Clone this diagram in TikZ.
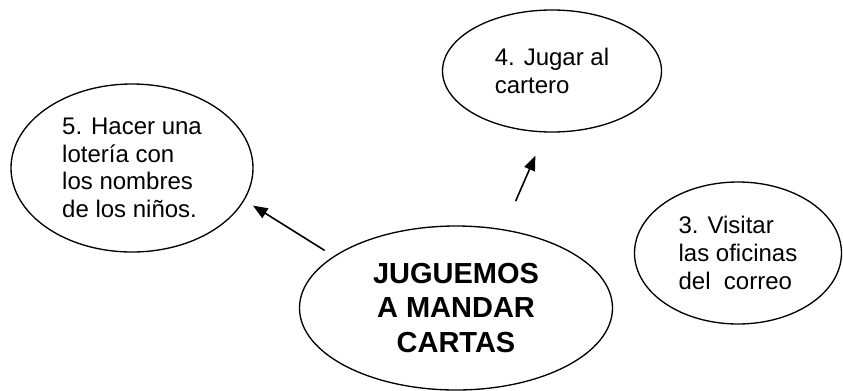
\documentclass[tikz,border=0pt]{standalone}
\usepackage{fontspec}
\setmainfont{Liberation Sans}
\usepackage{tikz}
\usetikzlibrary{arrows.meta,shapes.geometric}

\begin{document}
\begin{tikzpicture}[x=0.75pt,y=-0.75pt,
	burbuja/.style={draw, ellipse, line width=1pt, inner sep=0pt, align=left,
		font=\fontsize{18}{20.7}\selectfont},
	flecha/.style={-{Triangle[length=11pt,width=8.5pt]}, line width=1.2pt}]
		\useasboundingbox (0,0) rectangle (843,390);
		\node[burbuja, minimum width=181.5pt, minimum height=126pt] (E5) at (132,168)
			{5. Hacer una\\lotería con\\los nombres\\de los niños.};
		\node[burbuja, minimum width=164.25pt, minimum height=91.5pt] (E4) at (552,71)
			{4. Jugar al\\cartero};
		\node[burbuja, minimum width=155.25pt, minimum height=106.5pt] (E3) at (738,253)
			{3. Visitar\\las oficinas\\del\ \ correo};
		\node[burbuja, minimum width=234.75pt, minimum height=123pt, align=center,
			font=\fontsize{21.75}{25.9}\selectfont\bfseries] (C) at (456,308)
			{JUGUEMOS\\A MANDAR\\CARTAS};
		\draw[flecha, shorten <=8pt, shorten >=7.5pt] (C.157) -- (E5.-16);
		\draw[flecha, shorten <=23pt, shorten >=19pt] (C.59) -- (E4.-96);
	\end{tikzpicture}
\end{document}
